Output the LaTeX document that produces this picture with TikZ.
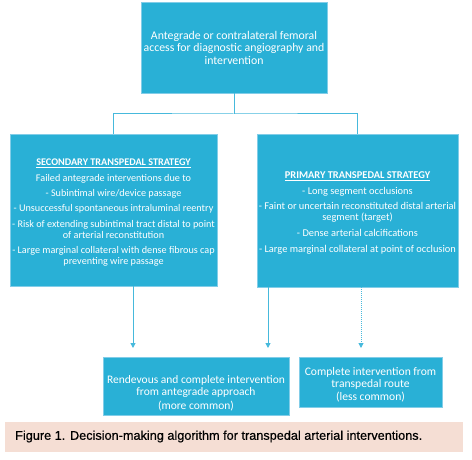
\documentclass[tikz,border=0pt]{standalone}
\usepackage{fontspec}
\setmainfont{Carlito}
\newfontfamily\capfont[FakeBold=0.5]{Liberation Sans}
\usetikzlibrary{arrows.meta}
\definecolor{boxblue}{RGB}{41,176,214}
\definecolor{boxedge}{RGB}{130,205,232}
\definecolor{linkblue}{RGB}{70,185,220}
\definecolor{cappink}{RGB}{245,222,212}
\begin{document}
\begin{tikzpicture}[x=1pt,y=-1pt,
  box/.style={draw=boxedge,line width=0.6pt,fill=boxblue,text=white,align=center,inner sep=1pt},
  link/.style={draw=linkblue,line width=1pt},
  arr/.style={link,-{Triangle[length=5pt,width=5pt]}},
  boxtext/.style={font=\fontsize{10.2}{11}\selectfont}]
\useasboundingbox (0,0) rectangle (472,460);
\node[box,minimum width=186pt,minimum height=91pt,font=\fontsize{11.8}{12.5}\selectfont] (top) at (234,47.5)
 {Antegrade or contralateral femoral\\access for diagnostic angiography and\\intervention};
\node[box,boxtext,minimum width=207pt,minimum height=152pt] (sec) at (113.5,210)
 {\rule{0pt}{12pt}\textbf{\underline{SECONDARY TRANSPEDAL STRATEGY}}\\[4.5pt]
  Failed antegrade interventions due to\\[4pt]
  - Subintimal wire/device passage\\[4.5pt]
  - Unsuccessful spontaneous intraluminal reentry\\[4.5pt]
  - Risk of extending subintimal tract distal to point\\
  of arterial reconstitution\\[4.5pt]
  - Large marginal collateral with dense fibrous cap\\
  preventing wire passage};
\node[box,minimum width=201pt,minimum height=153pt,font=\fontsize{10.4}{11.5}\selectfont] (pri) at (357.5,210.5)
 {\rule{0pt}{12pt}\textbf{\underline{PRIMARY TRANSPEDAL STRATEGY}}\\[4.5pt]
  - Long segment occlusions\\[3pt]
  - Faint or uncertain reconstituted distal arterial\\
  segment (target)\\[4.5pt]
  - Dense arterial calcifications\\[4pt]
  - Large marginal collateral at point of occlusion};
\node[box,minimum width=186pt,minimum height=58pt,font=\fontsize{11.5}{12.5}\selectfont] (ren) at (196,386)
 {\rule{0pt}{23pt}Rendevous and complete intervention\\from antegrade approach\\[1.5pt](more common)};
\node[box,minimum width=143pt,minimum height=50pt,font=\fontsize{11.6}{12}\selectfont] (cmp) at (370.5,382)
 {\rule{0pt}{13pt}Complete intervention from\\transpedal route\\[1pt](less common)};
\node[fill=cappink,minimum width=458pt,minimum height=30pt,inner sep=0pt] (cap) at (234,437) {};
\node[anchor=west,font=\capfont\fontsize{12.7}{14}\selectfont,inner sep=0pt] (captxt) at (15,436.5)
 {Figure 1. Decision-making algorithm for transpedal arterial interventions.};
% tree connector
\coordinate (j) at (234,114);
\draw[link] (top.south) -- (j);
\draw[link] (sec.north -| 113,0) |- (j) -| (pri.north);
% arrows
\coordinate (a1) at (133,348);
\coordinate (a2) at (268,348);
\coordinate (a3) at (361,348);
\draw[arr] (sec.south -| a1) -- (a1);
\draw[arr] (pri.south -| a2) -- (a2);
\draw[arr,densely dotted] (pri.south -| a3) -- (a3);
\end{tikzpicture}
\end{document}
